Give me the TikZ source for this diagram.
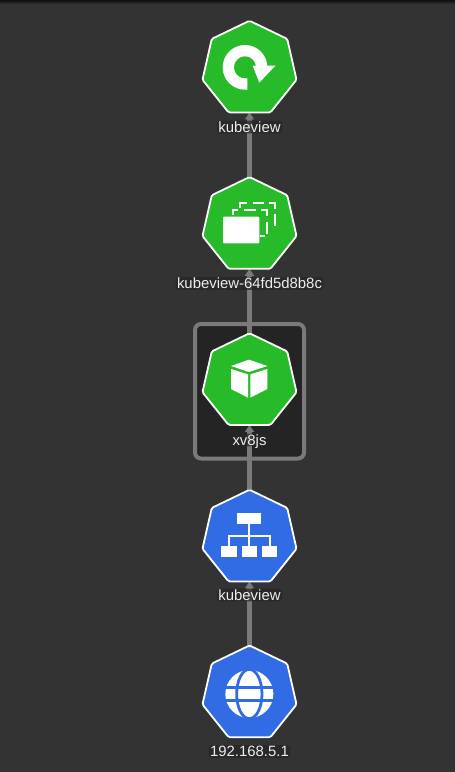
\documentclass[tikz,border=0pt]{standalone}
\usepackage{fontspec}
\setmainfont{Liberation Sans}
\usetikzlibrary{shapes.geometric,arrows.meta,backgrounds}
\definecolor{bgc}{HTML}{333333}
\definecolor{podbg}{HTML}{242424}
\definecolor{edgec}{HTML}{7A7A7A}
\definecolor{kgreen}{HTML}{27BB2A}
\definecolor{kblue}{HTML}{326CE5}
\tikzset{
  kube/.style={regular polygon,regular polygon sides=7,minimum size=96.5pt,inner sep=0pt,outer sep=0pt,draw=white,line width=1.8pt,rounded corners=1.5pt},
  greenk/.style={kube,fill=kgreen},
  bluek/.style={kube,fill=kblue},
  lab/.style={font=\fontsize{14.9pt}{15pt}\selectfont,text=white!93!black,fill=black!85,fill opacity=.72,text opacity=1,rounded corners=3pt,inner xsep=1.5pt,inner ysep=.8pt,text height=10.5pt,text depth=.5pt},
  link/.style={draw=edgec,line width=4.8pt,-{Triangle[width=9pt,length=7pt,fill=edgec]}},
  icon/.style={x=.33333pt,y=-.33333pt},
  ic/.style={fill=white,draw=none}
}
\begin{document}
\begin{tikzpicture}[x=1pt,y=-1pt]
\useasboundingbox (0,0) rectangle (455,772);

\node[greenk] (n1) at (249.5,69) {};
\node[greenk] (n2) at (249.5,225.3) {};
\node[greenk] (n3) at (249.5,381.5) {};
\node[bluek] (n4) at (249.5,538) {};
\node[bluek] (n5) at (249.5,693.7) {};

\node[lab] (l1) at (249.5,127) {kubeview};
\node[lab] (l2) at (249.5,283.5) {kubeview-64fd5d8b8c};
\node[lab] (l3) at (249.5,440) {xv8js};
\node[lab] (l4) at (249.5,595) {kubeview};
\node[lab] (l5) at (249.5,751.5) {192.168.5.1};

\begin{pgfonlayer}{background}
\fill[bgc] (0,0) rectangle (455,772);
\shade[top color=black!72!bgc,bottom color=bgc,draw=none] (0,0) rectangle (455,4);
\draw[draw=edgec,line width=4pt,fill=podbg,rounded corners=6pt] (195,324) rectangle (304,458.5);
\draw[link] (n2.north) -- (n1.south);
\draw[link] (n3.north) -- (n2.south);
\draw[link] (n4.north) -- (n3.south);
\draw[link] (n5.north) -- (n4.south);
\end{pgfonlayer}

% deployment icon: circular arrow
\begin{scope}[shift={(170,0)},icon]
\draw[white,line width=11.3pt] (232,252) -- (225,252) arc[start angle=90,end angle=360,radius=50] -- (275,197);
\fill[ic] (248,197) -- (316,197) -- (268,248) -- cycle;
\end{scope}

% replica set icon
\begin{scope}[shift={(170,165)},icon]
\fill[ic,rounded corners=1pt] (159,155) rectangle (268,235);
\draw[white,line width=2.1pt] (190,150) -- (190,134) -- (205,134);
\draw[white,line width=2.1pt] (222,134) -- (257,134);
\draw[white,line width=2.1pt] (272,134) -- (290,134) -- (290,152);
\draw[white,line width=2.1pt] (290,170) -- (290,208);
\draw[white,line width=2.1pt] (270,212) -- (285,212);
\draw[white,line width=2.1pt] (209,130) -- (209,113) -- (230,113);
\draw[white,line width=2.1pt] (248,113) -- (282,113);
\draw[white,line width=2.1pt] (298,113) -- (316,113) -- (316,132);
\draw[white,line width=2.1pt] (316,148) -- (316,184);
\end{scope}

% pod icon: cube
\begin{scope}[shift={(170,315)},icon]
\fill[ic] (237,134) -- (292,153) -- (237,171) -- (183,153) -- cycle;
\fill[ic] (183,162) -- (234,178) -- (234,248) -- (183,222) -- cycle;
\fill[ic] (241,178) -- (292,162) -- (292,222) -- (241,248) -- cycle;
\end{scope}

% service icon
\begin{scope}[shift={(170,480)},icon]
\fill[ic] (202,100) rectangle (274,133);
\fill[ic] (154,197) rectangle (200,230);
\fill[ic] (215,197) rectangle (261,230);
\fill[ic] (277,197) rectangle (322,230);
\draw[white,line width=2pt] (238,133) -- (238,197);
\draw[white,line width=2pt] (177,197) -- (177,167) -- (300,167) -- (300,197);
\end{scope}

% ingress icon: globe
\begin{scope}[shift={(170,630)},icon]
\fill[ic] (238,192) circle[radius=72];
\draw[kblue,line width=2.8pt] (238,192) ellipse[x radius=38,y radius=74];
\draw[kblue,line width=2.8pt] (160,172) -- (316,172);
\draw[kblue,line width=2.8pt] (160,212) -- (316,212);
\end{scope}
\end{tikzpicture}
\end{document}
